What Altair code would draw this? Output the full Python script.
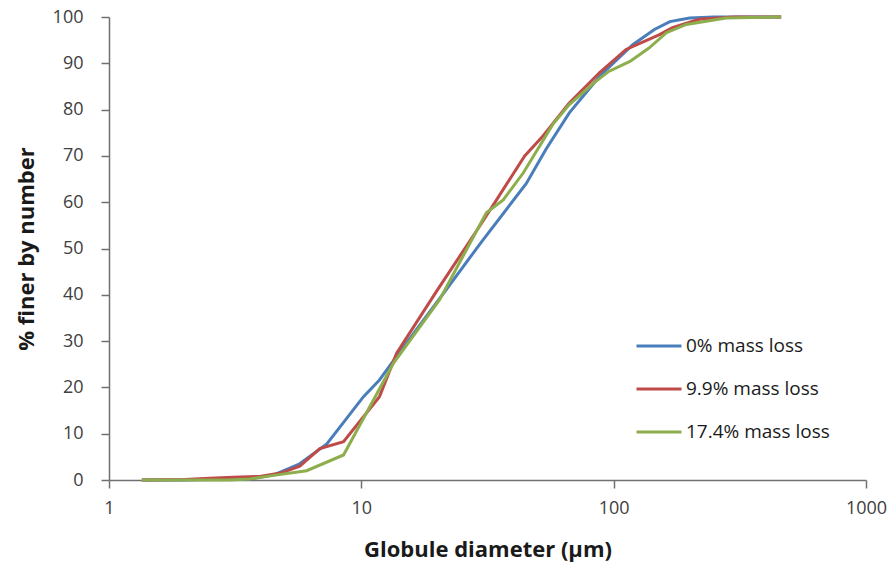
import altair as alt
import pandas as pd

series_names = ["0% mass loss", "9.9% mass loss", "17.4% mass loss"]
series_colors = ["#4A7EBB", "#BE4B48", "#8DAE4C"]

blue_x = [1.35, 2.0, 2.8, 3.5, 4.5, 5.7, 7.3, 10.2, 11.8, 15.1, 20, 30, 45, 54, 66.7, 88, 119, 145, 167, 200, 250, 350, 461]
blue_y = [0, 0, 0.2, 0.1, 1.1, 3.5, 7.8, 18, 21.6, 29.6, 38.5, 51.5, 64, 71.5, 79.3, 87.2, 94.0, 97.3, 99.0, 99.8, 100, 100, 100]

red_x = [1.35, 2.0, 2.5, 3.1, 4.0, 4.8, 5.7, 6.85, 8.5, 11.8, 13.8, 20, 30, 34.8, 44.4, 51.9, 66.7, 88, 112, 152, 171, 218, 300, 461]
red_y = [0, 0.1, 0.4, 0.6, 0.8, 1.5, 3.0, 6.8, 8.3, 18, 27.4, 41, 55.5, 61, 70, 74, 81.4, 88, 93, 96.2, 97.7, 99.5, 100, 100]

green_x = [1.35, 2.0, 3.0, 3.6, 4.5, 6.07, 8.5, 13.4, 20.4, 31.3, 36.5, 43.8, 57.4, 66.7, 85, 96, 116, 138, 162, 194, 233, 279, 461]
green_y = [0, 0, 0, 0.2, 1.0, 2.0, 5.4, 25.2, 38.9, 57.7, 60.5, 66.3, 76.8, 81.1, 86.1, 88.3, 90.4, 93.3, 96.6, 98.4, 99.1, 99.8, 100]

rows = []
for name, xs, ys in zip(series_names, [blue_x, red_x, green_x], [blue_y, red_y, green_y]):
    for i, (x, y) in enumerate(zip(xs, ys)):
        rows.append({"series": name, "d": x, "p": y, "o": i})
df = pd.DataFrame(rows)

FONT = "Open Sans"
AX = "#707070"
LAB = "#404040"

chart = alt.Chart(df).mark_line(strokeWidth=3).encode(
    x=alt.X("d:Q",
            scale=alt.Scale(type="log", domain=[1, 1000], nice=False),
            axis=alt.Axis(values=[1, 10, 100, 1000], format="d",
                          title="Globule diameter (µm)", grid=False,
                          tickSize=8, tickColor=AX, domainColor=AX, tickWidth=1.5, domainWidth=1.5,
                          labelFont=FONT, labelFontSize=18, labelColor=LAB, labelPadding=11,
                          titleFont=FONT, titleFontSize=22, titleFontWeight="bold", titleColor="#1a1a1a",
                          titlePadding=22, labelFlush=False)),
    y=alt.Y("p:Q",
            scale=alt.Scale(domain=[0, 100], nice=False),
            axis=alt.Axis(values=list(range(0, 101, 10)), title="% finer by number", grid=False,
                          tickSize=8, tickColor=AX, domainColor=AX, tickWidth=1.5, domainWidth=1.5,
                          labelFont=FONT, labelFontSize=18, labelColor=LAB, labelPadding=18,
                          titleFont=FONT, titleFontSize=22, titleFontWeight="bold", titleColor="#1a1a1a",
                          titlePadding=14)),
    color=alt.Color("series:N",
                    scale=alt.Scale(domain=series_names, range=series_colors),
                    legend=alt.Legend(title=None, orient="none", legendX=526, legendY=305,
                                      symbolType="stroke", symbolSize=2025, symbolStrokeWidth=3,
                                      labelFont=FONT, labelFontSize=19, labelColor="#1a1a1a",
                                      labelOffset=3, rowPadding=9)),
    order="o:Q",
).properties(
    width=757, height=463,
    autosize=alt.AutoSizeParams(type="none"),
    padding={"left": 101, "top": 9, "right": 22, "bottom": 83},
).configure_view(stroke=None)

chart.save("out.html", embed_options={"renderer": "svg", "actions": False})
